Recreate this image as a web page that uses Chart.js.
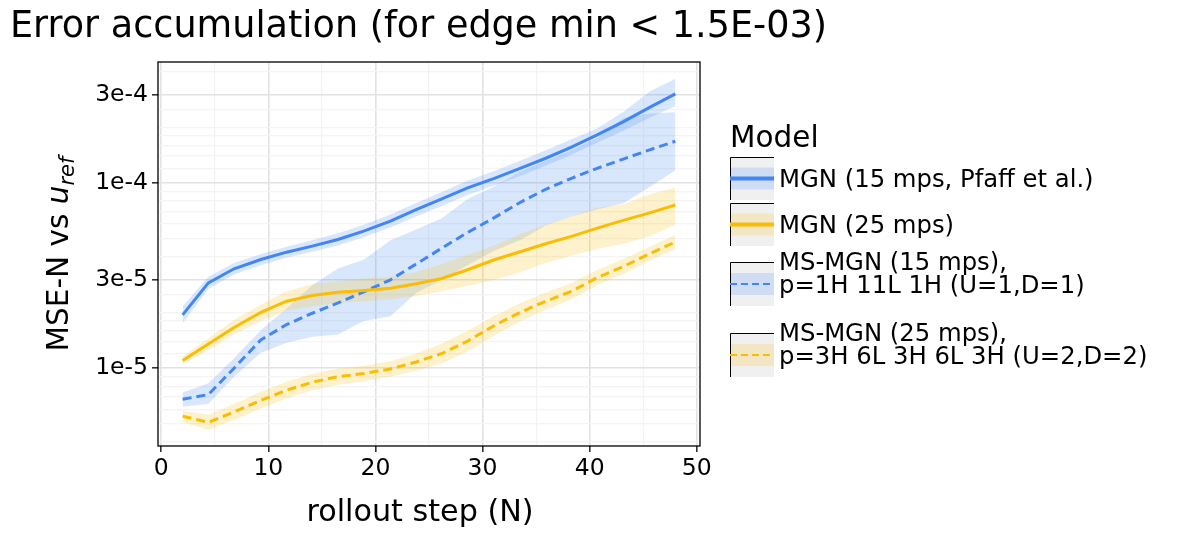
<!DOCTYPE html>
<html>
<head>
<meta charset="utf-8">
<title>Error accumulation</title>
<script src="https://cdn.jsdelivr.net/npm/chart.js"></script>
<style>
  body { margin: 0; background: #fff; }
</style>
</head>
<body>
<canvas id="chart" width="1177" height="536"></canvas>

<script>
// rollout steps (x)
const steps = [2, 4.4, 6.8, 9.3, 11.7, 14.1, 16.5, 18.9, 21.4, 23.8, 26.2, 28.6, 31.1, 33.5, 35.9, 38.3, 40.7, 43.2, 45.6, 48];

// MGN (15 mps, Pfaff et al.)
const mgn15   = [1.94e-5, 2.89e-5, 3.44e-5, 3.86e-5, 4.23e-5, 4.56e-5, 4.95e-5, 5.49e-5, 6.22e-5, 7.18e-5, 8.2e-5, 9.4e-5, 1.06e-4, 1.2e-4, 1.36e-4, 1.56e-4, 1.82e-4, 2.15e-4, 2.56e-4, 3.03e-4];
const mgn15Lo = [1.75e-5, 2.68e-5, 3.2e-5, 3.6e-5, 3.95e-5, 4.25e-5, 4.6e-5, 5.1e-5, 5.75e-5, 6.6e-5, 7.5e-5, 8.6e-5, 9.7e-5, 1.09e-4, 1.24e-4, 1.42e-4, 1.65e-4, 1.92e-4, 2.25e-4, 2.6e-4];
const mgn15Hi = [2.15e-5, 3.12e-5, 3.7e-5, 4.14e-5, 4.53e-5, 4.9e-5, 5.35e-5, 5.95e-5, 6.75e-5, 7.8e-5, 8.95e-5, 1.03e-4, 1.16e-4, 1.32e-4, 1.5e-4, 1.72e-4, 1.97e-4, 2.43e-4, 3.12e-4, 3.65e-4];

// MGN (25 mps)
const mgn25   = [1.1e-5, 1.35e-5, 1.66e-5, 2.0e-5, 2.3e-5, 2.47e-5, 2.57e-5, 2.63e-5, 2.7e-5, 2.86e-5, 3.05e-5, 3.4e-5, 3.85e-5, 4.25e-5, 4.7e-5, 5.15e-5, 5.7e-5, 6.3e-5, 6.9e-5, 7.6e-5];
const mgn25Lo = [1.05e-5, 1.25e-5, 1.52e-5, 1.8e-5, 2.05e-5, 2.15e-5, 2.25e-5, 2.3e-5, 2.35e-5, 2.45e-5, 2.6e-5, 2.78e-5, 3.0e-5, 3.3e-5, 3.7e-5, 4.05e-5, 4.4e-5, 4.7e-5, 5.15e-5, 5.95e-5];
const mgn25Hi = [1.16e-5, 1.45e-5, 1.82e-5, 2.2e-5, 2.6e-5, 2.85e-5, 2.95e-5, 3.05e-5, 3.12e-5, 3.3e-5, 3.65e-5, 4.1e-5, 4.6e-5, 5.3e-5, 5.95e-5, 6.6e-5, 7.35e-5, 7.7e-5, 8.7e-5, 9.45e-5];

// MS-MGN (15 mps), p=1H 11L 1H
const ms15   = [6.8e-6, 7.2e-6, 1.0e-5, 1.42e-5, 1.72e-5, 1.98e-5, 2.25e-5, 2.58e-5, 3.0e-5, 3.65e-5, 4.45e-5, 5.4e-5, 6.5e-5, 7.85e-5, 9.25e-5, 1.06e-4, 1.2e-4, 1.35e-4, 1.51e-4, 1.68e-4];
const ms15Lo = [6.2e-6, 6.4e-6, 9.0e-6, 1.21e-5, 1.37e-5, 1.48e-5, 1.52e-5, 1.8e-5, 1.91e-5, 2.55e-5, 3.0e-5, 3.6e-5, 4.3e-5, 4.9e-5, 5.9e-5, 6.6e-5, 7.2e-5, 7.8e-5, 9.5e-5, 1.17e-4];
const ms15Hi = [7.4e-6, 8.3e-6, 1.13e-5, 1.6e-5, 2.1e-5, 2.8e-5, 3.45e-5, 3.85e-5, 4.9e-5, 5.6e-5, 6.45e-5, 8.2e-5, 9.6e-5, 1.15e-4, 1.32e-4, 1.5e-4, 1.75e-4, 2.25e-4, 2.37e-4, 2.41e-4];

// MS-MGN (25 mps), p=3H 6L 3H 6L 3H
const ms25   = [5.5e-6, 5.1e-6, 5.8e-6, 6.7e-6, 7.6e-6, 8.4e-6, 9.0e-6, 9.35e-6, 9.9e-6, 1.08e-5, 1.2e-5, 1.4e-5, 1.7e-5, 2.0e-5, 2.3e-5, 2.6e-5, 3.08e-5, 3.55e-5, 4.15e-5, 4.8e-5];
const ms25Lo = [5.1e-6, 4.65e-6, 5.25e-6, 6.05e-6, 6.85e-6, 7.6e-6, 8.15e-6, 8.5e-6, 9.0e-6, 9.7e-6, 1.06e-5, 1.23e-5, 1.5e-5, 1.79e-5, 2.07e-5, 2.35e-5, 2.8e-5, 3.23e-5, 3.8e-5, 4.4e-5];
const ms25Hi = [5.9e-6, 5.6e-6, 6.4e-6, 7.45e-6, 8.45e-6, 9.3e-6, 9.95e-6, 1.03e-5, 1.09e-5, 1.2e-5, 1.36e-5, 1.59e-5, 1.92e-5, 2.24e-5, 2.56e-5, 2.88e-5, 3.39e-5, 3.9e-5, 4.53e-5, 5.23e-5];

// axis ticks
const xTicks = [0, 5, 10, 15, 20, 25, 30, 35, 40, 45, 50];
const xLabels = [0, 10, 20, 30, 40, 50];
const yTickVals = [1e-5, 3e-5, 1e-4, 3e-4];
const yTickText = ['1e-5', '3e-5', '1e-4', '3e-4'];
const yMinor = [4e-6, 5e-6, 6e-6, 7e-6, 8e-6, 9e-6, 1.2e-5, 1.4e-5, 1.6e-5, 1.8e-5, 2e-5, 2.5e-5, 4e-5, 5e-5, 6e-5, 7e-5, 8e-5, 9e-5, 1.2e-4, 1.4e-4, 1.6e-4, 1.8e-4, 2e-4, 2.5e-4, 4e-4];

const seriesNames = ['MGN (15 mps, Pfaff et al.)', 'MGN (25 mps)', 'MS-MGN (15 mps),\np=1H 11L 1H (U=1,D=1)', 'MS-MGN (25 mps),\np=3H 6L 3H 6L 3H (U=2,D=2)'];

const BLUE = '#4285F4';
const YELLOW = '#FBBC04';
const BLUE_BAND = 'rgba(66,133,244,0.2)';
const YELLOW_BAND = 'rgba(251,188,4,0.2)';
const FONT = "'DejaVu Sans', sans-serif";

const pts = arr => steps.map((x, i) => ({ x: x, y: arr[i] }));

function band(lo, hi, color) {
  return [
    { data: pts(lo), borderWidth: 0, pointRadius: 0, fill: false, order: 2 },
    { data: pts(hi), borderWidth: 0, pointRadius: 0, fill: '-1', backgroundColor: color, order: 2 }
  ];
}

function line(vals, color, dash) {
  return { data: pts(vals), borderColor: color, borderWidth: 3, borderDash: dash, pointRadius: 0, fill: false, tension: 0, order: 0 };
}

// legend keys
const legendItems = [
  { color: BLUE, band: '#cfdcf3', dash: false, top: 157, h: 43 },
  { color: YELLOW, band: '#f3e6c3', dash: false, top: 203, h: 43 },
  { color: BLUE, band: '#cfdcf3', dash: true, top: 262, h: 44 },
  { color: YELLOW, band: '#f3e6c3', dash: true, top: 333, h: 44 }
];

const textPlugin = {
  id: 'texts',
  afterDraw(chart) {
    const ctx = chart.ctx;
    const a = chart.chartArea;
    ctx.save();

    // panel frame
    ctx.strokeStyle = '#000';
    ctx.lineWidth = 1.3;
    ctx.strokeRect(a.left, a.top, a.right - a.left, a.bottom - a.top);

    ctx.fillStyle = '#000';
    ctx.textBaseline = 'alphabetic';

    // title
    ctx.font = '36.6px ' + FONT;
    ctx.textAlign = 'left';
    ctx.fillText('Error accumulation (for edge min < 1.5E-03)', 10, 37);

    // x title
    ctx.font = '30.2px ' + FONT;
    ctx.textAlign = 'center';
    ctx.fillText('rollout step (N)', 420, 521);

    // y title with subscript
    ctx.save();
    ctx.translate(68, (a.top + a.bottom) / 2);
    ctx.rotate(-Math.PI / 2);
    ctx.textAlign = 'left';
    const main = 'MSE-N vs ';
    ctx.font = '29.5px ' + FONT;
    const w1 = ctx.measureText(main).width;
    ctx.font = 'italic 29.5px ' + FONT;
    const w2 = ctx.measureText('u').width;
    ctx.font = 'italic 21px ' + FONT;
    const w3 = ctx.measureText('ref').width;
    const x0 = -(w1 + w2 + w3) / 2;
    ctx.font = '29.5px ' + FONT;
    ctx.fillText(main, x0, 0);
    ctx.font = 'italic 29.5px ' + FONT;
    ctx.fillText('u', x0 + w1, 0);
    ctx.font = 'italic 21px ' + FONT;
    ctx.fillText('ref', x0 + w1 + w2, 6);
    ctx.restore();

    // legend
    ctx.textAlign = 'left';
    ctx.font = '29.5px ' + FONT;
    ctx.fillText('Model', 730, 147);
    ctx.font = '24.3px ' + FONT;
    legendItems.forEach((it, i) => {
      const kx = 730, kw = 44;
      const cy = it.top + it.h / 2;
      ctx.fillStyle = '#f0f0f0';
      ctx.fillRect(kx, it.top, kw, it.h);
      ctx.fillStyle = it.band;
      ctx.fillRect(kx, cy - 11, kw, 22);
      ctx.strokeStyle = '#000';
      ctx.lineWidth = 1;
      ctx.beginPath();
      ctx.moveTo(kx + 0.5, it.top + it.h);
      ctx.lineTo(kx + 0.5, it.top + 0.5);
      ctx.lineTo(kx + kw, it.top + 0.5);
      ctx.stroke();
      ctx.strokeStyle = it.color;
      ctx.lineWidth = it.dash ? 2 : 4;
      ctx.setLineDash(it.dash ? [7, 4] : []);
      ctx.beginPath();
      ctx.moveTo(kx, cy);
      ctx.lineTo(kx + kw, cy);
      ctx.stroke();
      ctx.setLineDash([]);
      ctx.fillStyle = '#000';
      const lines = seriesNames[i].split('\n');
      if (lines.length === 1) {
        ctx.fillText(lines[0], 779, cy + 8.5);
      } else {
        ctx.fillText(lines[0], 779, cy - 14.5);
        ctx.fillText(lines[1], 779, cy + 9);
      }
    });
    ctx.restore();
  }
};

new Chart(document.getElementById('chart'), {
  type: 'line',
  data: {
    datasets: [
      ...band(mgn15Lo, mgn15Hi, BLUE_BAND),
      ...band(mgn25Lo, mgn25Hi, YELLOW_BAND),
      ...band(ms15Lo, ms15Hi, BLUE_BAND),
      ...band(ms25Lo, ms25Hi, YELLOW_BAND),
      line(mgn15, BLUE, []),
      line(mgn25, YELLOW, []),
      line(ms15, BLUE, [9, 5]),
      line(ms25, YELLOW, [9, 5])
    ]
  },
  options: {
    responsive: false,
    animation: false,
    layout: { padding: { left: 0, right: 477, top: 62, bottom: 0 } },
    plugins: {
      legend: { display: false },
      tooltip: { enabled: false },
      title: { display: false }
    },
    scales: {
      x: {
        type: 'linear',
        min: -0.3,
        max: 50.3,
        afterFit: s => { s.height = 90; },
        afterBuildTicks: s => { s.ticks = xTicks.map(v => ({ value: v })); },
        ticks: {
          autoSkip: false,
          maxRotation: 0,
          padding: 3,
          color: '#000',
          font: { family: FONT, size: 23.5 },
          callback: v => xLabels.includes(v) ? String(v) : ''
        },
        grid: {
          color: c => xLabels.includes(c.tick && c.tick.value) ? '#e2e2e2' : '#f3f3f3',
          lineWidth: c => xLabels.includes(c.tick && c.tick.value) ? 1.6 : 1.2,
          tickColor: c => xLabels.includes(c.tick && c.tick.value) ? '#333' : 'rgba(0,0,0,0)',
          tickLength: 6
        },
        border: { display: false }
      },
      y: {
        type: 'logarithmic',
        min: 3.8e-6,
        max: 4.5e-4,
        afterFit: s => { s.width = 158; },
        afterBuildTicks: s => {
          s.ticks = yMinor.concat(yTickVals).sort((p, q) => p - q).map(v => ({ value: v }));
        },
        ticks: {
          autoSkip: false,
          padding: 4,
          color: '#000',
          font: { family: FONT, size: 23.5 },
          callback: v => {
            const k = yTickVals.indexOf(v);
            return k >= 0 ? yTickText[k] : '';
          }
        },
        grid: {
          color: c => yTickVals.includes(c.tick && c.tick.value) ? '#e2e2e2' : '#f4f4f4',
          lineWidth: c => yTickVals.includes(c.tick && c.tick.value) ? 1.6 : 1.2,
          tickColor: c => yTickVals.includes(c.tick && c.tick.value) ? '#333' : 'rgba(0,0,0,0)',
          tickLength: 6
        },
        border: { display: false }
      }
    }
  },
  plugins: [textPlugin]
});
</script>
</body>
</html>
